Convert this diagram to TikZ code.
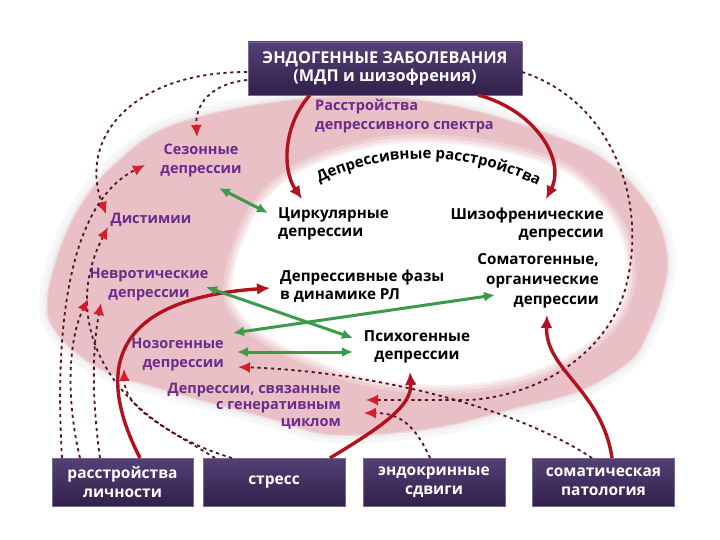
\documentclass[tikz,border=0pt]{standalone}
\usepackage{fontspec}
\setmainfont{Open Sans}
\usetikzlibrary{arrows.meta,decorations.text}
\definecolor{ringpink}{RGB}{232,192,197}
\definecolor{lblpurple}{RGB}{108,42,140}
\definecolor{boxtop}{RGB}{84,64,118}
\definecolor{boxbot}{RGB}{48,32,74}
\definecolor{boxedge}{RGB}{120,105,150}
\definecolor{arrred}{RGB}{178,18,30}
\definecolor{tipred}{RGB}{212,30,40}
\definecolor{dashcol}{RGB}{85,20,35}
\definecolor{arrgreen}{RGB}{60,155,75}
\def\outerpath{plot[smooth cycle, tension=0.6] coordinates {(48,300) (62,245) (85,200) (115,165) (167,128) (260,105) (360,97) (460,108) (563,140) (613,167) (653,213) (667,260) (660,300) (647,333) (630,360) (580,390) (513,408) (430,428) (333,434) (267,417) (167,390) (100,368) (57,332)}}
\def\innerpath{plot[smooth cycle, tension=0.6] coordinates {(232,290) (240,250) (262,205) (300,172) (360,150) (420,143) (493,150) (560,170) (597,200) (620,235) (627,275) (620,305) (603,330) (563,358) (513,377) (450,385) (380,380) (320,362) (265,335) (240,312)}}
\begin{document}
\begin{tikzpicture}[x=1pt,y=-1pt,
 lbl/.style={font=\bfseries\fontsize{14.5}{19}\selectfont, inner sep=0pt, text=lblpurple},
 blk/.style={font=\bfseries\fontsize{15.2}{18}\selectfont, inner sep=0pt, text=black},
 darkbox/.style={draw=boxedge, line width=0.8pt, top color=boxtop, bottom color=boxbot, text=white, font=\bfseries\fontsize{15.5}{19}\selectfont, align=center, inner sep=0pt},
 redarr/.style={draw=arrred, line width=3.4pt, -{Latex[length=13pt,width=12pt]}},
 dsh/.style={draw=dashcol, line width=1.8pt, dash pattern=on 3.2pt off 3.6pt, -{Latex[length=12pt,width=11pt,color=tipred]}},
 grn/.style={draw=arrgreen, line width=3pt, {Latex[length=11pt,width=10pt]}-{Latex[length=11pt,width=10pt]}},
]
\useasboundingbox (0,0) rectangle (720,540);
\fill[white] (0,0) rectangle (720,540);
% ring
\draw[line width=18pt, black!3] \outerpath;
\draw[line width=9pt, black!6] \outerpath;
\draw[line width=3pt, ringpink!70!white] \outerpath;
\fill[ringpink] \outerpath;
\draw[line width=18pt, ringpink!75!white] \innerpath;
\draw[line width=11pt, ringpink!50!white] \innerpath;
\draw[line width=5pt, ringpink!25!white] \innerpath;
\fill[white] \innerpath;

% boxes
\node[darkbox, minimum width=274pt, minimum height=53pt, font=\bfseries\fontsize{16.3}{18.5}\selectfont] (top) at (385,68.5) {ЭНДОГЕННЫЕ ЗАБОЛЕВАНИЯ\\(МДП и шизофрения)};
\node[darkbox, minimum width=141pt, minimum height=48pt] (b1) at (122.5,482) {расстройства\\личности};
\node[darkbox, minimum width=142pt, minimum height=48pt] (b2) at (274,482) {стресс};
\node[darkbox, minimum width=142pt, minimum height=48pt] (b3) at (434,482) {эндокринные\\сдвиги};
\node[darkbox, minimum width=142pt, minimum height=48pt] (b4) at (603.5,482) {соматическая\\патология};

% labels
\node[lbl, align=center] (sez) at (201,160) {Сезонные\\депрессии};
\node[lbl] (dist) at (151,220) {Дистимии};
\node[lbl, align=center] (nevr) at (149,285) {Невротические\\депрессии};
\node[lbl, align=right, anchor=east] (nozo) at (224,355) {Нозогенные\\депрессии};
\node[lbl, align=right, anchor=east, font=\bfseries\fontsize{14.5}{16.5}\selectfont] (gen) at (341,406) {Депрессии, связанные\\с генеративным\\циклом};
\node[lbl, align=left, anchor=west] (spec) at (315,116) {Расстройства\\депрессивного спектра};
\node[blk, align=left, anchor=west] (cirk) at (278,224) {Циркулярные\\депрессии};
\node[blk, align=right, anchor=east] (shiz) at (604,225) {Шизофренические\\депрессии};
\node[blk, align=right, anchor=east, font=\bfseries\fontsize{15.2}{20}\selectfont] (soma) at (599,281) {Соматогенные,\\органические\\депрессии};
\node[blk, align=left, anchor=west] (faz) at (280,286) {Депрессивные фазы\\в динамике РЛ};
\node[blk, align=center] (psih) at (417,347) {Психогенные\\депрессии};
\path[decorate, decoration={text along path, text align=center, text={|\bfseries\fontsize{15}{15}\selectfont|Депрессивные расстройства}}] (310,188) .. controls (375,150) and (470,147) .. (547,191);

% connector end points
\coordinate (t1) at (247,80);
\coordinate (t2) at (247,72);
\coordinate (t3) at (522,72);
\coordinate (sezA) at (197,137);
\coordinate (sezB) at (145,165);
\coordinate (distA) at (106,214);
\coordinate (distB) at (108,227);
\coordinate (nevrA) at (88,299);
\coordinate (nevrB) at (101,303);
\coordinate (nozoA) at (124,369);
\coordinate (nozoB) at (238,367);
\coordinate (genA) at (366,400);
\coordinate (genB) at (364,413);
\coordinate (b1a) at (62,458);
\coordinate (b1b) at (80,458);
\coordinate (b1c) at (100,458);
\coordinate (b2a) at (215,458);
\coordinate (b2b) at (232,458);
\coordinate (b3a) at (430,458);
\coordinate (b4a) at (592,458);

% dashed connectors
\draw[dsh] (t1) .. controls (210,84) and (195,105) .. (sezA);
\draw[dsh] (t2) .. controls (130,72) and (78,140) .. (distA);
\draw[dsh] (t3) .. controls (610,100) and (650,200) .. (625,290) .. controls (605,355) and (540,395) .. (470,400) -- (genA);
\draw[dsh] (b3a) .. controls (415,425) and (400,413) .. (genB);
\draw[dsh] (b4a) .. controls (520,410) and (380,372) .. (nozoB);
\draw[dsh] (b1a) .. controls (55,340) and (65,205) .. (sezB);
\draw[dsh] (b2b) .. controls (120,425) and (55,330) .. (distB);
\draw[dsh] (b1b) .. controls (66,400) and (68,340) .. (nevrA);
\draw[dsh] (b1c) .. controls (92,400) and (92,350) .. (nevrB);
\draw[dsh] (b2a) .. controls (170,430) and (125,410) .. (nozoA);

% solid red connectors
\draw[redarr] (310,95) .. controls (283,125) and (282,170) .. (302,199);
\draw[redarr] (478,95) .. controls (535,110) and (566,160) .. (546,199);
\draw[redarr] (140,458) .. controls (100,380) and (100,300) .. (270,288);
\draw[redarr] (330,458) .. controls (385,425) and (412,405) .. (410,372);
\draw[redarr] (612,458) .. controls (602,390) and (545,370) .. (547,315);

% green connectors
\draw[grn] (219,188) -- (268,213);
\draw[grn] (206,287) -- (353,338);
\draw[grn] (233,333) -- (495,295);
\draw[grn] (237,352) -- (353,352);
\end{tikzpicture}
\end{document}
